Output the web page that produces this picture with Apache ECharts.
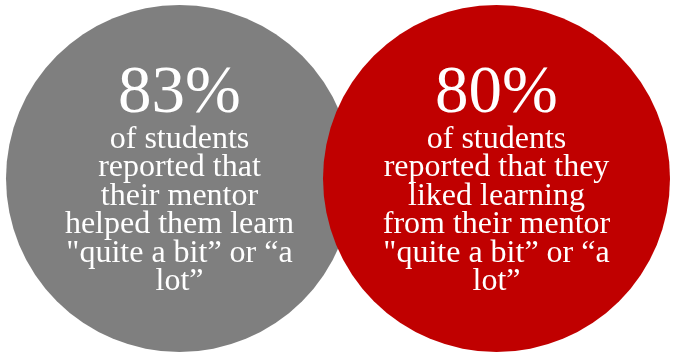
<!DOCTYPE html>
<html>
<head>
<meta charset="utf-8">
<style>
  html, body { margin: 0; padding: 0; background: #ffffff; }
  #chart { width: 673px; height: 355px; }
</style>
<script src="https://cdn.jsdelivr.net/npm/echarts@6/dist/echarts.min.js"></script>
</head>
<body>
<div id="chart"></div>
<script>
// Two survey results, each shown as a filled circle with its statistic inside.
const positions = [0, 1];
const percents = [83, 80];
const captions = [
  ['of students', 'reported that', 'their mentor', 'helped them learn', '"quite a bit\u201d or \u201ca', 'lot\u201d'],
  ['of students', 'reported that they', 'liked learning', 'from their mentor', '"quite a bit\u201d or \u201ca', 'lot\u201d']
];
const fills = ['#7f7f7f', '#c00000'];

const serif = '"Liberation Serif", "DejaVu Serif", serif';

function labelText(i) {
  const lines = ['{big|' + percents[i] + '%}'];
  captions[i].forEach(function (line) { lines.push('{body|' + line + '}'); });
  return lines.join('\n');
}

const chart = echarts.init(document.getElementById('chart'), null, { renderer: 'canvas' });

chart.setOption({
  animation: false,
  backgroundColor: '#ffffff',
  grid: { left: 179.5, right: 176.5, top: 5, height: 347 },
  xAxis: { type: 'value', min: 0, max: 1, show: false },
  yAxis: { type: 'value', min: -1, max: 1, show: false },
  series: [{
    type: 'scatter',
    symbol: 'circle',
    symbolSize: 347,
    data: positions.map(function (x, i) {
      return {
        value: [x, 0],
        itemStyle: { color: fills[i], opacity: 1 },
        label: {
          show: true,
          position: 'inside',
          offset: [0, 1.5],
          formatter: labelText(i),
          align: 'center',
          verticalAlign: 'middle',
          rich: {
            big: { fontFamily: serif, fontSize: 67, lineHeight: 61.5, color: '#ffffff', align: 'center' },
            body: { fontFamily: serif, fontSize: 32, lineHeight: 28.5, color: '#ffffff', align: 'center' }
          }
        }
      };
    }),
    emphasis: { disabled: true }
  }]
});
</script>
</body>
</html>
